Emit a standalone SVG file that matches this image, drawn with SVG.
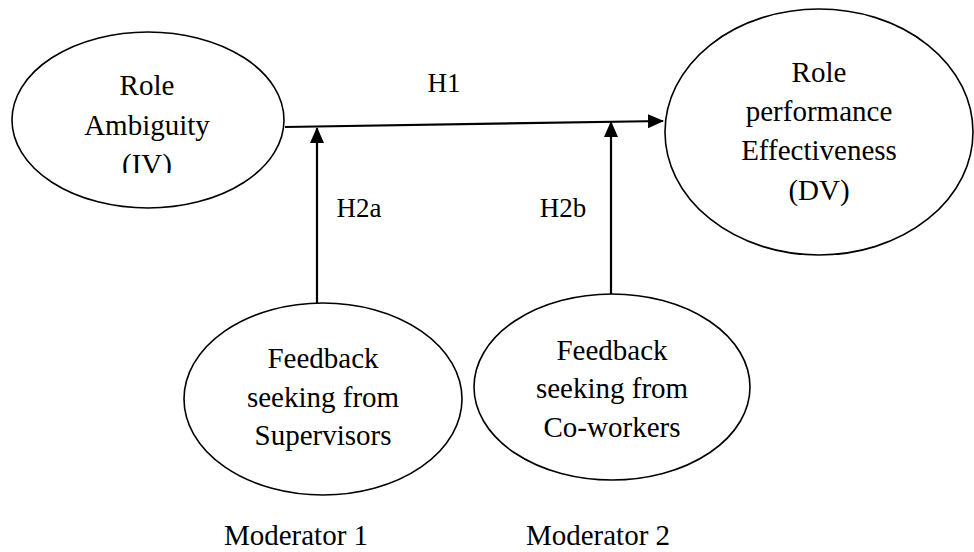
<svg xmlns="http://www.w3.org/2000/svg" width="974" height="552" viewBox="0 0 974 552">
<style>
.node ellipse{fill:#fff;stroke:#000;stroke-width:1.6}
text{font-family:"Liberation Serif","Times New Roman","DejaVu Serif",serif;font-size:29px;fill:#000;text-anchor:middle}
.lbl{font-size:27px}
.conn line{stroke:#000;stroke-width:2.2}
</style>
<defs>
<marker id="ah" markerUnits="userSpaceOnUse" markerWidth="16" markerHeight="14" refX="15" refY="7" orient="auto">
<path d="M0,0 L16,7 L0,14 Z" fill="#000"/>
</marker>
<clipPath id="clipIV"><rect x="0" y="0" width="320" height="173"/></clipPath>
</defs>
<rect width="974" height="552" fill="#fff"/>
<g id="role-ambiguity" class="node">
<ellipse cx="148" cy="120" rx="136" ry="88"/>
<g clip-path="url(#clipIV)">
<text x="147" y="95">Role</text>
<text x="147" y="135">Ambiguity</text>
<text x="147" y="174">(IV)</text>
</g>
</g>
<g id="role-performance" class="node">
<ellipse cx="819" cy="132" rx="154" ry="123"/>
<text x="819" y="82">Role</text>
<text x="819" y="121">performance</text>
<text x="819" y="160">Effectiveness</text>
<text x="819" y="200">(DV)</text>
</g>
<g id="feedback-supervisors" class="node">
<ellipse cx="323" cy="399" rx="139" ry="96"/>
<text x="323" y="368">Feedback</text>
<text x="323" y="407">seeking from</text>
<text x="323" y="445">Supervisors</text>
</g>
<g id="feedback-coworkers" class="node">
<ellipse cx="612" cy="387" rx="138" ry="93"/>
<text x="612" y="360">Feedback</text>
<text x="612" y="398">seeking from</text>
<text x="612" y="437">Co-workers</text>
</g>
<g id="connectors" class="conn">
<line x1="285" y1="127" x2="663" y2="121" marker-end="url(#ah)"/>
<line x1="317" y1="303" x2="317" y2="128" marker-end="url(#ah)"/>
<line x1="611" y1="294" x2="611" y2="122" marker-end="url(#ah)"/>
</g>
<g id="labels">
<text class="lbl" x="444" y="92">H1</text>
<text class="lbl" x="359" y="217">H2a</text>
<text class="lbl" x="563" y="217">H2b</text>
<text x="296" y="545">Moderator 1</text>
<text x="598" y="545">Moderator 2</text>
</g>
</svg>
